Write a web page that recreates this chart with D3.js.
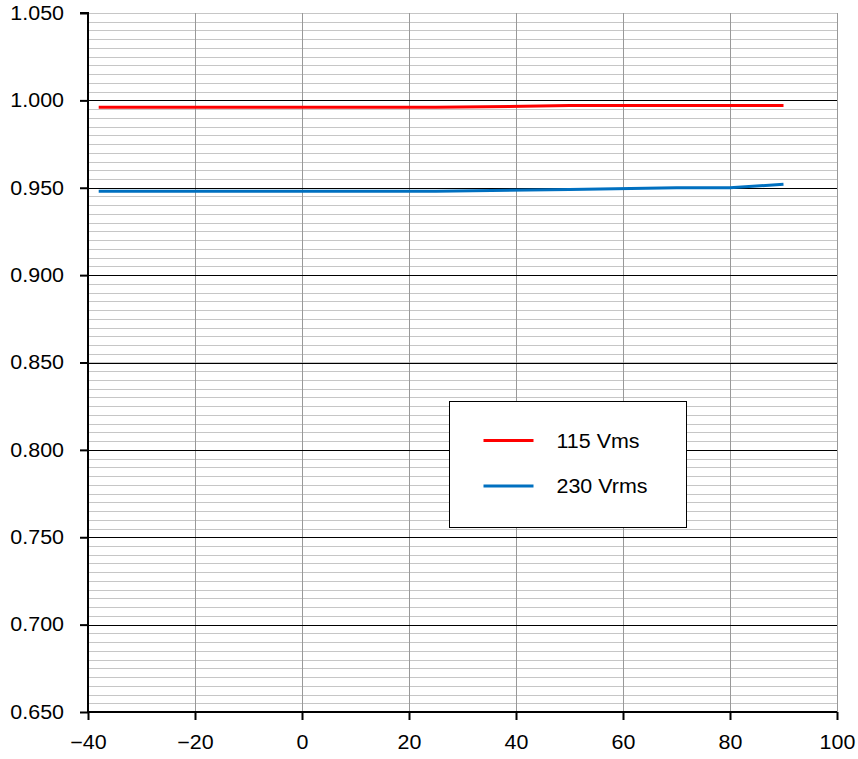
<!DOCTYPE html>
<html>
<head>
<meta charset="utf-8">
<script src="https://cdn.jsdelivr.net/npm/d3@7"></script>
<style>
  body { margin: 0; background: #fff; }
  svg text { font-family: Arial, "Liberation Sans", sans-serif; fill: #000; }
</style>
</head>
<body>
<svg id="main-svg"></svg>
<script>
// DATA
const temperatures = [-38, 25, 50, 70, 80, 90]
const values115 = [0.996, 0.996, 0.997, 0.997, 0.997, 0.997]
const values230 = [0.948, 0.948, 0.949, 0.950, 0.950, 0.952]
const seriesNames = ["115 Vms", "230 Vrms"]
const seriesColors = ["#ff0000", "#0070c0"]
const xTicks = [-40, -20, 0, 20, 40, 60, 80, 100]
const yTicks = [0.65, 0.70, 0.75, 0.80, 0.85, 0.90, 0.95, 1.00, 1.05]

// SPACING
const CANVAS_WIDTH = 858
const CANVAS_HEIGHT = 759
const PLOT_LEFT = 88
const PLOT_RIGHT = 837
const PLOT_TOP = 13
const PLOT_BOTTOM = 712
const FONT_SIZE = 19.5
const TEXT_STRETCH = 1.1 // reference text is a bit wide

const svg = d3.select("#main-svg")
  .attr("width", CANVAS_WIDTH)
  .attr("height", CANVAS_HEIGHT)

const x = d3.scaleLinear().domain([-40, 100]).range([PLOT_LEFT, PLOT_RIGHT])
const y = d3.scaleLinear().domain([0.65, 1.05]).range([PLOT_BOTTOM, PLOT_TOP])

function stretch(sel) {
  sel.each(function () {
    const w = this.getComputedTextLength()
    d3.select(this)
      .attr("textLength", w * TEXT_STRETCH)
      .attr("lengthAdjust", "spacingAndGlyphs")
  })
}

// minor horizontal grid (every 0.005)
const minorY = d3.range(0, 81).map(i => 0.65 + i * 0.005)
svg.append("g")
  .selectAll("line")
  .data(minorY)
  .join("line")
  .attr("x1", PLOT_LEFT).attr("x2", PLOT_RIGHT)
  .attr("y1", d => Math.round(y(d)) + 0.5).attr("y2", d => Math.round(y(d)) + 0.5)
  .attr("stroke", "#c6c6c6")
  .attr("stroke-width", 1)

// vertical grid
svg.append("g")
  .selectAll("line")
  .data(xTicks)
  .join("line")
  .attr("x1", d => Math.round(x(d)) + 0.5).attr("x2", d => Math.round(x(d)) + 0.5)
  .attr("y1", PLOT_TOP).attr("y2", PLOT_BOTTOM)
  .attr("stroke", "#999")
  .attr("stroke-width", 1)

// major horizontal grid
svg.append("g")
  .selectAll("line")
  .data(yTicks.slice(1, -1))
  .join("line")
  .attr("x1", PLOT_LEFT).attr("x2", PLOT_RIGHT)
  .attr("y1", d => Math.round(y(d)) + 0.5).attr("y2", d => Math.round(y(d)) + 0.5)
  .attr("stroke", "#000")
  .attr("stroke-width", 1)

// axes
const yAxis = d3.axisLeft(y).tickValues(yTicks).tickFormat(d3.format(".3f")).tickSize(8).tickPadding(16)
const xAxis = d3.axisBottom(x).tickValues(xTicks).tickFormat(d => d < 0 ? "\u2212" + Math.abs(d) : d).tickSize(8).tickPadding(15)

const yG = svg.append("g").attr("transform", `translate(${PLOT_LEFT},0)`).call(yAxis)
const xG = svg.append("g").attr("transform", `translate(0,${PLOT_BOTTOM})`).call(xAxis)

for (const g of [yG, xG]) {
  g.select(".domain").attr("stroke", "#000").attr("stroke-width", 2)
  g.selectAll(".tick line").attr("stroke", "#000").attr("stroke-width", 2)
  g.selectAll(".tick text")
    .attr("font-size", FONT_SIZE)
    .attr("font-family", "Arial, 'Liberation Sans', sans-serif")
    .attr("fill", "#000")
    .call(stretch)
}
yG.select(".domain").attr("d", `M-8,${PLOT_TOP}H0V${PLOT_BOTTOM}`)
xG.select(".domain").attr("d", `M${PLOT_LEFT},0H${PLOT_RIGHT}`)

// lines
const seriesValues = [values115, values230]
const line = d3.line()
  .x(d => x(d[0]))
  .y(d => y(d[1]))

svg.append("g")
  .selectAll("path")
  .data(seriesValues)
  .join("path")
  .attr("d", vals => line(temperatures.map((t, i) => [t, vals[i]])))
  .attr("fill", "none")
  .attr("stroke", (_, i) => seriesColors[i])
  .attr("stroke-width", 3)

// legend
const legend = svg.append("g").attr("transform", "translate(449.5,401.5)")
legend.append("rect")
  .attr("width", 237)
  .attr("height", 126)
  .attr("fill", "#fff")
  .attr("stroke", "#000")
  .attr("stroke-width", 1)

const items = legend.selectAll("g.item")
  .data(seriesNames)
  .join("g")
  .attr("class", "item")
  .attr("transform", (_, i) => `translate(0,${39 + i * 45.5})`)

items.append("line")
  .attr("x1", 34).attr("x2", 84)
  .attr("stroke", (_, i) => seriesColors[i])
  .attr("stroke-width", 3)

items.append("text")
  .attr("x", 107)
  .attr("y", 7)
  .attr("font-size", FONT_SIZE)
  .text(d => d)
  .call(stretch)
</script>
</body>
</html>
